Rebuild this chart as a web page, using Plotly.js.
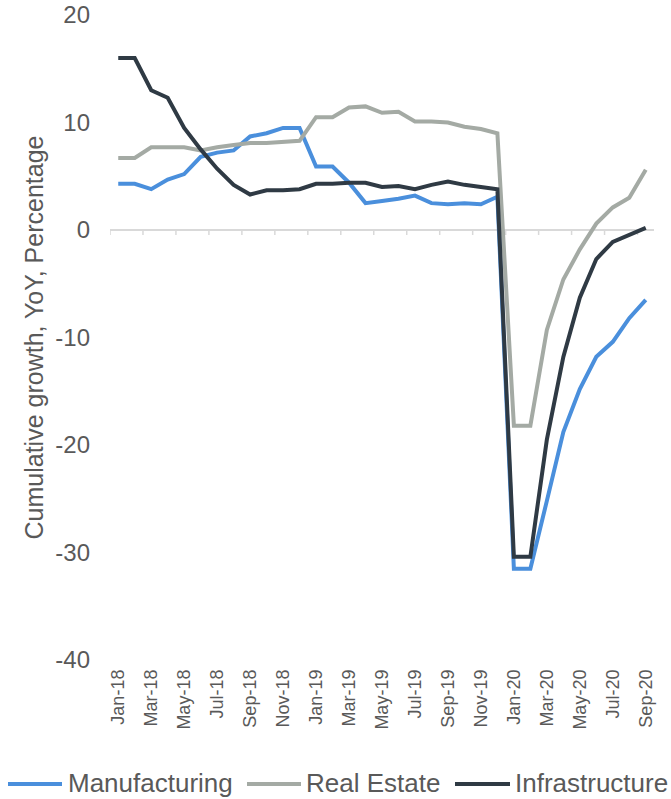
<!DOCTYPE html>
<html>
<head>
<meta charset="utf-8">
<script src="https://cdn.plot.ly/plotly-3.0.1.min.js"></script>
<style>html,body{margin:0;padding:0;background:#fff;}#chart{width:671px;height:799px;}</style>
</head>
<body>
<div id="chart"></div>
<script>
const categories = ["Jan-18","Feb-18","Mar-18","Apr-18","May-18","Jun-18","Jul-18","Aug-18","Sep-18","Oct-18","Nov-18","Dec-18",
  "Jan-19","Feb-19","Mar-19","Apr-19","May-19","Jun-19","Jul-19","Aug-19","Sep-19","Oct-19","Nov-19","Dec-19",
  "Jan-20","Feb-20","Mar-20","Apr-20","May-20","Jun-20","Jul-20","Aug-20","Sep-20"];
const manufacturing = [4.3,4.3,3.8,4.7,5.2,6.8,7.2,7.4,8.7,9.0,9.5,9.5,
  5.9,5.9,4.4,2.5,2.7,2.9,3.2,2.5,2.4,2.5,2.4,3.1,
  -31.5,-31.5,-25.2,-18.8,-14.8,-11.8,-10.4,-8.2,-6.5];
const realEstate = [6.7,6.7,7.7,7.7,7.7,7.4,7.7,7.9,8.1,8.1,8.2,8.3,
  10.5,10.5,11.4,11.5,10.9,11.0,10.1,10.1,10.0,9.6,9.4,9.0,
  -18.2,-18.2,-9.3,-4.6,-1.8,0.6,2.1,3.0,5.6];
const infrastructure = [16.0,16.0,13.0,12.3,9.5,7.5,5.7,4.2,3.3,3.7,3.7,3.8,
  4.3,4.3,4.4,4.4,4.0,4.1,3.8,4.2,4.5,4.2,4.0,3.8,
  -30.4,-30.4,-19.5,-11.8,-6.3,-2.7,-1.1,-0.4,0.2];
const seriesNames = ["Manufacturing","Real Estate","Infrastructure"];
const seriesColors = ["#4a8fdc","#a4aaa4","#2f3a44"];
const yTickVals = [-40,-30,-20,-10,0,10,20];
const yTickText = ["-40","-30","-20","-10","0","10","20"];

const FONT = "Liberation Sans, Arial, Helvetica, sans-serif";
const TXT = "#595959";
const W = 671, H = 799, ML = 110, MR = 17, MT = 15, MB = 139;
const PW = W - ML - MR, PH = H - MT - MB;
const px2x = p => (p - ML) / PW;
const py2y = p => (H - MB - p) / PH;

const allSeries = [manufacturing, realEstate, infrastructure];
const traces = allSeries.map((vals, k) => ({
  type: "scatter", mode: "lines", x: categories, y: vals, name: seriesNames[k],
  line: {color: seriesColors[k], width: 4}, showlegend: false, hoverinfo: "skip"
}));

const labelTicks = categories.filter((c, i) => i % 2 === 0);
const boundaryTicks = categories.map((c, i) => i - 0.5).filter((v, i) => i % 2 === 0);

// small tick marks hanging below the zero line, every two months at category boundaries
const tickShapes = boundaryTicks.map(b => ({
  type: "line", xref: "x", yref: "y", ysizemode: "pixel", yanchor: 0,
  x0: b, x1: b, y0: 0, y1: -5, layer: "below",
  line: {color: "#d9d9d9", width: 1.5}
}));

// custom legend (wide line swatches)
const legendItems = [
  {sw: [8, 62], tx: 66},
  {sw: [247, 301], tx: 304},
  {sw: [455, 510], tx: 513}
];
const legY = 784;
const legendShapes = legendItems.map((it, k) => ({
  type: "line", xref: "paper", yref: "paper",
  x0: px2x(it.sw[0]), x1: px2x(it.sw[1]), y0: py2y(legY), y1: py2y(legY),
  line: {color: seriesColors[k], width: 4}
}));
const annotations = legendItems.map((it, k) => ({
  xref: "paper", yref: "paper", x: px2x(it.tx), y: py2y(legY - 1),
  xanchor: "left", yanchor: "middle", showarrow: false, text: seriesNames[k],
  font: {family: FONT, size: 26, color: TXT}
}));

const layout = {
  width: W, height: H,
  margin: {l: ML, r: MR, t: MT, b: MB, pad: 0},
  paper_bgcolor: "#fff", plot_bgcolor: "#fff",
  showlegend: false,
  font: {family: FONT, color: TXT},
  xaxis: {
    type: "category", range: [-0.5, categories.length - 0.5],
    tickmode: "array", tickvals: labelTicks, ticktext: labelTicks,
    tickangle: -90, ticks: "", showline: false, showgrid: false, zeroline: false,
    tickfont: {family: FONT, size: 18, color: TXT}, ticklabelstandoff: 5, automargin: false
  },
  yaxis: {
    range: [-40, 20], tickmode: "array", tickvals: yTickVals, ticktext: yTickText,
    showgrid: false, showline: false, ticks: "",
    zeroline: true, zerolinecolor: "#d9d9d9", zerolinewidth: 2,
    tickfont: {family: FONT, size: 24, color: TXT}, ticklabelstandoff: 19,
    title: {text: "Cumulative growth, YoY, Percentage", font: {family: FONT, size: 25, color: TXT}, standoff: 4},
    automargin: false
  },
  shapes: tickShapes.concat(legendShapes),
  annotations: annotations
};

Plotly.newPlot("chart", traces, layout, {staticPlot: true, displayModeBar: false});
</script>
</body>
</html>
